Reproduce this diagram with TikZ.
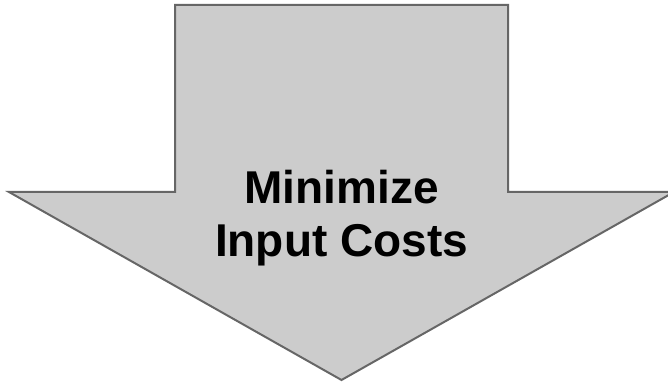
\documentclass[tikz,border=0pt]{standalone}
\usepackage{fontspec}
\setmainfont{Liberation Sans}
\definecolor{arwfill}{HTML}{CCCCCC}
\definecolor{arwline}{HTML}{666666}
\begin{document}
\begin{tikzpicture}[x=1pt, y=1pt, every node/.style={font=\bfseries}]
  \tikzstyle{arw}=[draw=arwline, fill=arwfill, line width=2pt, line join=miter]
  \tikzstyle{lbl}=[align=center, inner sep=0pt, font=\fontsize{46}{53}\selectfont\bfseries]
  \useasboundingbox (0, 0) rectangle (668, 383);
  \clip (0, 0) rectangle (668, 383);
  \fill[white] (0, 0) rectangle (668, 383);
  \draw[arw] (175, 378) -- (508, 378) -- (508, 191) -- (674, 191)
    -- (341.5, 3) -- (9, 191) -- (175, 191) -- cycle;
  \node[lbl] (goal) at (341.5, 165) {Minimize\\Input Costs};
\end{tikzpicture}
\end{document}
